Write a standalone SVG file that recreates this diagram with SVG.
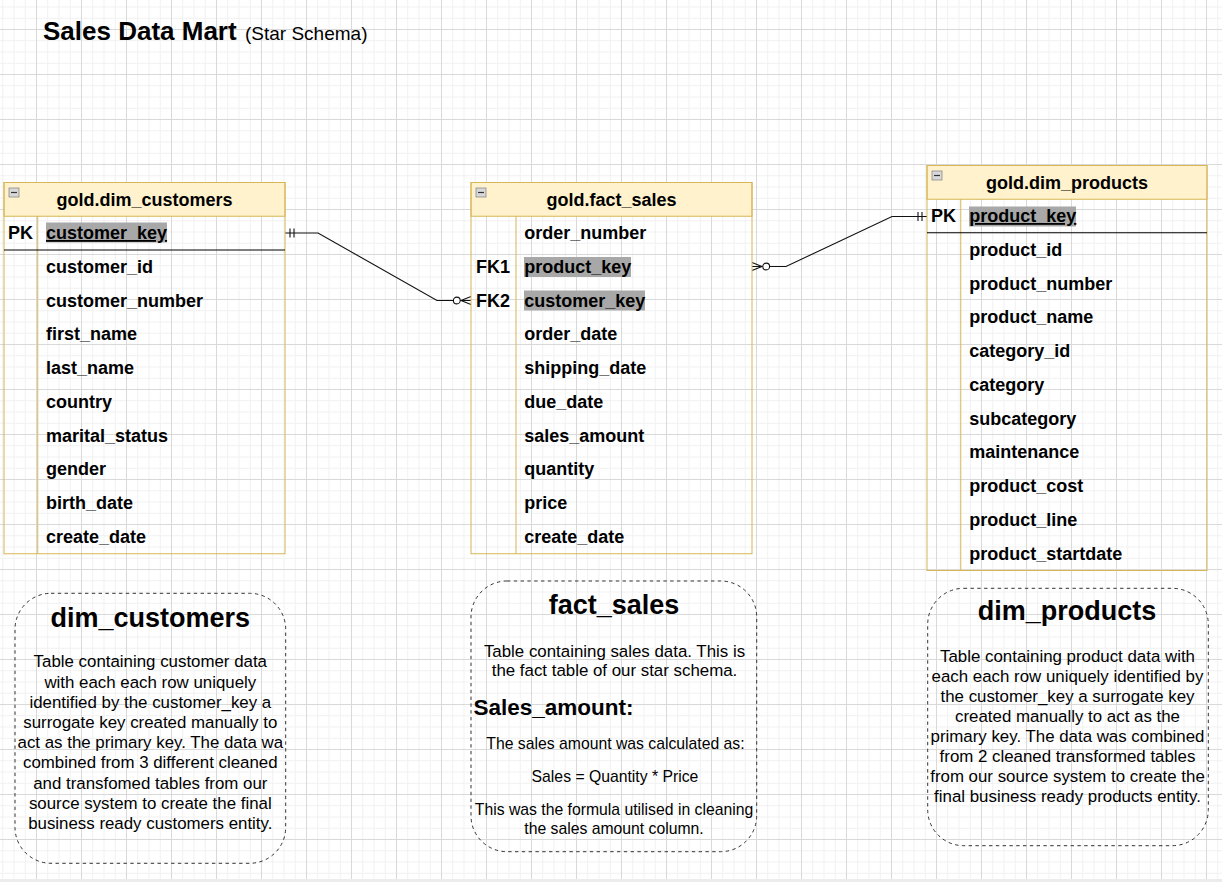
<svg xmlns="http://www.w3.org/2000/svg" width="1222" height="882" viewBox="0 0 1222 882">
  <style>
    .t { font-family: "Liberation Sans", Arial, sans-serif; fill: #000; }
    .fld { font-size: 18px; font-weight: bold; }
    .hdr { font-size: 18px; font-weight: bold; text-anchor: middle; }
    .pk { text-decoration: underline; }
    .hl { fill: #a8a8a8; }
    .box { fill: none; stroke: #d6b656; stroke-width: 1; }
    .head { fill: #fff2cc; stroke: #d6b656; stroke-width: 1; }
    .div { stroke: #d6b656; stroke-width: 1; }
    .keyline { stroke: #000; stroke-width: 1; }
    .note { fill: none; stroke: #333; stroke-width: 1; stroke-dasharray: 3.4 3.4; }
    .ntitle { font-size: 27px; font-weight: bold; text-anchor: middle; }
    .nbody { font-size: 16.875px; text-anchor: middle; }
    .nsmall { font-size: 15.75px; text-anchor: middle; }
    .conn { fill: none; stroke: #111; stroke-width: 1.1; }
    .tog { fill: #d8d8d8; stroke: #8a8a8a; stroke-width: 0.8; }
    .togm { stroke: #333; stroke-width: 1.2; }
  </style>
  <defs>
    <pattern id="grid" patternUnits="userSpaceOnUse" x="36" y="29" width="45" height="45">
      <path d="M11.75 0V45M23 0V45M34.25 0V45M0 11.75H45M0 23H45M0 34.25H45" stroke="#f1f1f1" stroke-width="1" fill="none"/>
      <path d="M0.5 0V45M0 0.5H45" stroke="#d9d9d9" stroke-width="1" fill="none"/>
    </pattern>
    <!-- exactly one (mandatory) -->
    <marker id="mandOne" markerUnits="userSpaceOnUse" viewBox="-14 -7 16 14" markerWidth="16" markerHeight="14" refX="0" refY="0" orient="auto-start-reverse">
      <path d="M-9 -4.5V4.5M-5 -4.5V4.5" stroke="#111" stroke-width="1.1" fill="none"/>
    </marker>
    <!-- zero or many -->
    <marker id="zeroMany" markerUnits="userSpaceOnUse" viewBox="-20 -7 22 14" markerWidth="22" markerHeight="14" refX="0" refY="0" orient="auto-start-reverse">
      <path d="M-10 0L0 -4M-10 0L0 4" stroke="#111" stroke-width="1.1" fill="none"/>
      <circle cx="-14.2" cy="0" r="3.4" fill="#fff" stroke="#111" stroke-width="1.1"/>
    </marker>
  </defs>

  <!-- canvas -->
  <rect x="0" y="0" width="1222" height="882" fill="#fff"/>
  <rect x="0" y="0" width="1222" height="879" fill="url(#grid)"/>
  <rect x="0" y="879" width="1222" height="3" fill="#ececec"/>

  <!-- heading -->
  <g id="heading">
    <text class="t" x="43" y="40" font-size="26" font-weight="bold">Sales Data Mart</text>
    <text class="t" x="245" y="40" font-size="19">(Star Schema)</text>
  </g>

  <!-- relationships -->
  <g id="connectors">
    <path class="conn" d="M285 233H318L437 300.5H471" marker-start="url(#mandOne)" marker-end="url(#zeroMany)"/>
    <path class="conn" d="M752 266.5H786L892 216.5H927" marker-start="url(#zeroMany)" marker-end="url(#mandOne)"/>
  </g>

  <!-- gold.dim_customers -->
  <g id="dim_customers">
    <rect class="head" x="4" y="182.5" width="281" height="33.75"/>
    <rect class="box" x="4" y="182.5" width="281" height="371.25"/>
    <line class="div" x1="37.75" y1="216.25" x2="37.75" y2="553.75"/>
    <line class="keyline" x1="4" y1="250" x2="285" y2="250"/>
    <rect class="tog" x="9" y="188" width="10" height="9"/>
    <line class="togm" x1="11" y1="192.5" x2="17" y2="192.5"/>
    <text class="t hdr" x="144.5" y="205.5">gold.dim_customers</text>
    <rect class="hl" x="46" y="222.5" width="121" height="20"/>
    <text class="t fld" x="8" y="239">PK</text>
    <text class="t fld pk" x="46" y="239">customer_key</text>
    <text class="t fld" x="46" y="272.8">customer_id</text>
    <text class="t fld" x="46" y="306.5">customer_number</text>
    <text class="t fld" x="46" y="340.3">first_name</text>
    <text class="t fld" x="46" y="374">last_name</text>
    <text class="t fld" x="46" y="407.8">country</text>
    <text class="t fld" x="46" y="441.5">marital_status</text>
    <text class="t fld" x="46" y="475.3">gender</text>
    <text class="t fld" x="46" y="509">birth_date</text>
    <text class="t fld" x="46" y="542.8">create_date</text>
  </g>

  <!-- gold.fact_sales -->
  <g id="fact_sales">
    <rect class="head" x="471" y="182.5" width="281" height="33.75"/>
    <rect class="box" x="471" y="182.5" width="281" height="371.25"/>
    <line class="div" x1="516" y1="216.25" x2="516" y2="553.75"/>
    <rect class="tog" x="476" y="188" width="10" height="9"/>
    <line class="togm" x1="478" y1="192.5" x2="484" y2="192.5"/>
    <text class="t hdr" x="611.5" y="205.5">gold.fact_sales</text>
    <rect class="hl" x="524" y="257" width="107" height="20"/>
    <rect class="hl" x="524" y="290.5" width="121" height="20"/>
    <text class="t fld" x="524.3" y="239">order_number</text>
    <text class="t fld" x="476" y="272.8">FK1</text>
    <text class="t fld" x="524.3" y="272.8">product_key</text>
    <text class="t fld" x="476" y="306.5">FK2</text>
    <text class="t fld" x="524.3" y="306.5">customer_key</text>
    <text class="t fld" x="524.3" y="340.3">order_date</text>
    <text class="t fld" x="524.3" y="374">shipping_date</text>
    <text class="t fld" x="524.3" y="407.8">due_date</text>
    <text class="t fld" x="524.3" y="441.5">sales_amount</text>
    <text class="t fld" x="524.3" y="475.3">quantity</text>
    <text class="t fld" x="524.3" y="509">price</text>
    <text class="t fld" x="524.3" y="542.8">create_date</text>
  </g>

  <!-- gold.dim_products -->
  <g id="dim_products">
    <rect class="head" x="927" y="165.5" width="280" height="33.75"/>
    <rect class="box" x="927" y="165.5" width="280" height="405"/>
    <line class="div" x1="960.75" y1="199.25" x2="960.75" y2="570.5"/>
    <line class="keyline" x1="927" y1="232.75" x2="1207" y2="232.75"/>
    <rect class="tog" x="932" y="171" width="10" height="9"/>
    <line class="togm" x1="934" y1="175.5" x2="940" y2="175.5"/>
    <text class="t hdr" x="1067" y="188.5">gold.dim_products</text>
    <rect class="hl" x="969" y="206.5" width="107" height="20"/>
    <text class="t fld" x="931" y="222">PK</text>
    <text class="t fld pk" x="969.3" y="222">product_key</text>
    <text class="t fld" x="969.3" y="255.8">product_id</text>
    <text class="t fld" x="969.3" y="289.5">product_number</text>
    <text class="t fld" x="969.3" y="323.3">product_name</text>
    <text class="t fld" x="969.3" y="357">category_id</text>
    <text class="t fld" x="969.3" y="390.8">category</text>
    <text class="t fld" x="969.3" y="424.5">subcategory</text>
    <text class="t fld" x="969.3" y="458.3">maintenance</text>
    <text class="t fld" x="969.3" y="492">product_cost</text>
    <text class="t fld" x="969.3" y="525.8">product_line</text>
    <text class="t fld" x="969.3" y="559.5">product_startdate</text>
  </g>

  <!-- description notes -->
  <g id="note_customers">
    <rect class="note" x="15" y="593.3" width="270.7" height="270" rx="36" ry="36"/>
    <text class="t ntitle" x="150.3" y="626.6">dim_customers</text>
    <text class="t nbody" x="150.3" y="667.3">Table containing customer data</text>
    <text class="t nbody" x="150.3" y="687.5">with each each row uniquely</text>
    <text class="t nbody" x="150.3" y="707.7">identified by the customer_key a</text>
    <text class="t nbody" x="150.3" y="727.9">surrogate key created manually to</text>
    <text class="t nbody" x="150.3" y="748.1">act as the primary key. The data wa</text>
    <text class="t nbody" x="150.3" y="768.3">combined from 3 different cleaned</text>
    <text class="t nbody" x="150.3" y="788.5">and transfomed tables from our</text>
    <text class="t nbody" x="150.3" y="808.7">source system to create the final</text>
    <text class="t nbody" x="150.3" y="828.9">business ready customers entity.</text>
  </g>

  <g id="note_fact_sales">
    <rect class="note" x="471" y="581" width="285.7" height="270.7" rx="36" ry="36"/>
    <text class="t ntitle" x="614" y="614.3">fact_sales</text>
    <text class="t nbody" x="614.5" y="656.7">Table containing sales data. This is</text>
    <text class="t nbody" x="614.5" y="675.9">the fact table of our star schema.</text>
    <text class="t" x="473.5" y="715" font-size="22.5" font-weight="bold">Sales_amount:</text>
    <text class="t nsmall" x="615.5" y="749">The sales amount was calculated as:</text>
    <text class="t nsmall" x="615" y="781.7">Sales = Quantity * Price</text>
    <text class="t nsmall" x="614" y="815">This was the formula utilised in cleaning</text>
    <text class="t nsmall" x="614" y="834">the sales amount column.</text>
  </g>

  <g id="note_products">
    <rect class="note" x="927.7" y="588.3" width="280.6" height="257.4" rx="36" ry="36"/>
    <text class="t ntitle" x="1067" y="619.5">dim_products</text>
    <text class="t nbody" x="1067.5" y="661.7">Table containing product data with</text>
    <text class="t nbody" x="1067.5" y="681.8">each each row uniquely identified by</text>
    <text class="t nbody" x="1067.5" y="701.9">the customer_key a surrogate key</text>
    <text class="t nbody" x="1067.5" y="722">created manually to act as the</text>
    <text class="t nbody" x="1067.5" y="742.1">primary key. The data was combined</text>
    <text class="t nbody" x="1067.5" y="762.2">from 2 cleaned transformed tables</text>
    <text class="t nbody" x="1067.5" y="782.3">from our source system to create the</text>
    <text class="t nbody" x="1067.5" y="802.4">final business ready products entity.</text>
  </g>
</svg>
